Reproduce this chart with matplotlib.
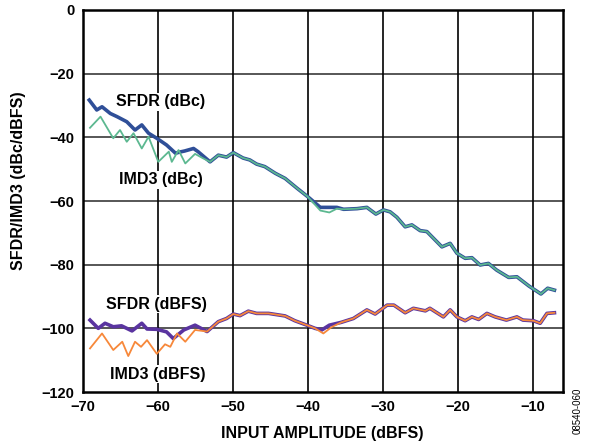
import matplotlib.pyplot as plt

plt.rcParams['font.family'] = ['Liberation Sans', 'DejaVu Sans']

# SFDR (dBc)
sfdr_dbc_x = [-69.1, -68.1, -67.4, -66.3, -65.4, -64.1, -63.0, -62.1, -61.2, -60.1, -58.8, -57.6,
              -57.0, -56.4, -55.2, -54.6, -53.0, -51.9, -50.8, -49.9, -48.6, -47.7, -46.8, -45.7,
              -44.3, -43.0, -41.4, -40.0, -38.3, -37.0, -36.1, -35.2, -33.4, -32.1, -30.9, -29.9,
              -29.0, -28.1, -27.0, -26.1, -25.0, -24.1, -22.1, -21.0, -20.1, -19.0, -18.1, -17.0,
              -15.9, -14.8, -13.2, -12.1, -10.5, -8.9, -8.0, -7.1]
sfdr_dbc_y = [-28.3, -31.4, -30.4, -32.5, -33.5, -35.1, -37.7, -36.1, -38.7, -40.3, -42.4, -45.0,
              -44.6, -44.3, -43.5, -44.5, -47.7, -45.6, -46.2, -44.8, -46.5, -47.1, -48.4, -49.2,
              -51.3, -52.9, -56.0, -58.6, -62.0, -62.0, -62.0, -62.6, -62.4, -62.0, -64.1, -62.8,
              -63.4, -65.1, -68.1, -67.5, -69.3, -69.6, -74.4, -73.3, -76.4, -78.0, -77.8, -80.1,
              -79.6, -81.7, -84.0, -83.8, -86.7, -89.2, -87.4, -88.0]

# IMD3 (dBc)
imd3_dbc_x = [-69.0, -67.6, -65.9, -65.0, -64.1, -63.2, -62.1, -61.2, -59.9, -58.5, -58.1, -57.2,
              -56.3, -55.0, -54.0, -53.0, -51.9, -50.8, -49.9, -48.6, -47.7, -46.8, -45.7, -44.3,
              -43.0, -41.4, -40.0, -38.3, -37.1, -36.1, -35.2, -33.4, -32.1, -30.9, -29.9, -29.0,
              -28.1, -27.0, -26.1, -25.0, -24.1, -22.1, -21.0, -20.1, -19.0, -18.1, -17.0, -15.9,
              -14.8, -13.2, -12.1, -10.5, -8.9, -8.0, -7.1]
imd3_dbc_y = [-37.0, -33.5, -40.3, -37.7, -41.4, -38.7, -43.5, -39.8, -47.7, -44.5, -47.7, -44.0,
              -48.2, -45.2, -46.5, -47.7, -45.6, -46.2, -44.8, -46.5, -47.1, -48.4, -49.2, -51.3,
              -52.9, -56.0, -58.6, -63.0, -63.6, -62.4, -62.6, -62.4, -62.0, -64.1, -62.8, -63.4,
              -65.1, -68.1, -67.5, -69.3, -69.6, -74.4, -73.3, -76.4, -78.0, -77.8, -80.1, -79.6,
              -81.7, -84.0, -83.8, -86.7, -89.2, -87.4, -88.0]

# SFDR (dBFS)
sfdr_dbfs_x = [-69.0, -67.9, -67.0, -65.9, -64.8, -63.4, -62.1, -61.4, -60.1, -58.8, -57.9, -56.5,
               -55.0, -53.4, -51.9, -50.8, -49.9, -49.0, -47.9, -46.8, -45.2, -43.0, -41.7, -40.1,
               -39.0, -38.1, -37.1, -35.5, -33.9, -32.1, -31.0, -29.4, -28.5, -27.0, -25.9, -24.3,
               -23.7, -21.9, -21.0, -20.1, -19.0, -18.1, -17.2, -16.1, -15.0, -13.5, -12.1, -11.3,
               -9.9, -9.0, -8.1, -7.1]
sfdr_dbfs_y = [-97.4, -100.0, -98.4, -99.5, -99.2, -100.8, -98.4, -100.2, -100.3, -101.1, -103.2, -100.5,
               -99.0, -101.0, -97.9, -96.9, -95.5, -96.0, -94.6, -95.3, -95.3, -96.1, -97.6, -99.0,
               -100.0, -100.5, -99.0, -98.1, -96.9, -94.2, -95.5, -92.7, -92.7, -95.1, -93.7, -94.5,
               -93.7, -96.4, -94.2, -96.4, -97.6, -96.4, -97.2, -95.3, -96.4, -97.4, -96.4, -97.4,
               -97.6, -98.4, -95.3, -95.1]

# IMD3 (dBFS)
imd3_dbfs_x = [-69.0, -67.4, -65.9, -64.7, -63.9, -63.0, -62.2, -61.4, -60.1, -59.0, -58.3, -57.4,
               -56.3, -55.0, -53.4, -51.9, -50.8, -49.9, -49.0, -47.9, -46.8, -45.2, -43.0, -41.7,
               -40.1, -39.0, -37.9, -36.8, -35.5, -33.9, -32.1, -31.0, -29.4, -28.5, -27.0, -25.9,
               -24.3, -23.7, -21.9, -21.0, -20.1, -19.0, -18.1, -17.2, -16.1, -15.0, -13.5, -12.1,
               -11.3, -9.9, -9.0, -8.1, -7.1]
imd3_dbfs_y = [-106.3, -101.6, -106.8, -104.2, -108.7, -104.2, -105.8, -103.7, -108.0, -105.0, -105.8, -101.6,
               -104.2, -100.5, -101.0, -97.9, -96.9, -95.5, -96.0, -94.6, -95.3, -95.3, -96.1, -97.6,
               -99.0, -100.0, -101.6, -99.6, -98.1, -96.9, -94.2, -95.5, -92.7, -92.7, -95.1, -93.7,
               -94.5, -93.7, -96.4, -94.2, -96.4, -97.6, -96.4, -97.2, -95.3, -96.4, -97.4, -96.4,
               -97.4, -97.6, -98.4, -95.3, -95.1]

x_ticks = [-70, -60, -50, -40, -30, -20, -10]
y_ticks = [0, -20, -40, -60, -80, -100, -120]

fig = plt.figure(figsize=(5.91, 4.46), dpi=100)
ax = fig.add_axes([0.1396, 0.121, 0.8125, 0.8566])

# grid: horizontals a bit grey, verticals black
for yv in y_ticks[1:-1]:
    ax.axhline(yv, color='#3a3a3a', lw=1.2, zorder=1)
for xv in x_ticks[1:]:
    ax.axvline(xv, color='black', lw=1.2, zorder=1)

ax.plot(sfdr_dbc_x, sfdr_dbc_y, color='#2f4f98', lw=2.6, solid_joinstyle='round', zorder=3)
ax.plot(imd3_dbc_x, imd3_dbc_y, color='#5cb890', lw=1.3, solid_joinstyle='round', zorder=4)
ax.plot(sfdr_dbfs_x, sfdr_dbfs_y, color='#5a34a0', lw=2.6, solid_joinstyle='round', zorder=3)
ax.plot(imd3_dbfs_x, imd3_dbfs_y, color='#f7883a', lw=1.3, solid_joinstyle='round', zorder=4)

box = dict(facecolor='white', edgecolor='none', pad=1)
lab = dict(fontsize=11.5, fontweight='bold', ha='center', va='center', zorder=5, bbox=box)
ax.text(-59.6, -28.9, 'SFDR (dBc)', **lab)
ax.text(-59.6, -53.4, 'IMD3 (dBc)', **lab)
ax.text(-60.1, -92.4, 'SFDR (dBFS)', **lab)
ax.text(-60.0, -114.4, 'IMD3 (dBFS)', **lab)

ax.set_xlim(-70, -6)
ax.set_ylim(-120, 0)
ax.set_xticks(x_ticks)
ax.set_yticks(y_ticks)
ax.set_xticklabels(['\u2212' + str(-v) for v in x_ticks], fontsize=10.5, fontweight='bold')
ax.set_yticklabels(['0'] + ['\u2212' + str(-v) for v in y_ticks[1:]], fontsize=10.5, fontweight='bold')
ax.tick_params(length=0, pad=6)
for s in ax.spines.values():
    s.set_linewidth(1.8)
    s.set_color('black')

ax.set_xlabel('INPUT AMPLITUDE (dBFS)', fontsize=11.5, fontweight='bold')
ax.set_ylabel('SFDR/IMD3 (dBc/dBFS)', fontsize=11.5, fontweight='bold')
ax.xaxis.set_label_coords(0.5, -0.088)
ax.yaxis.set_label_coords(-0.118, 0.552)

fig.text(0.978, 0.08, '08540-060', rotation=90, fontsize=7, ha='center', va='center')

fig.savefig('out.png', dpi=100)
